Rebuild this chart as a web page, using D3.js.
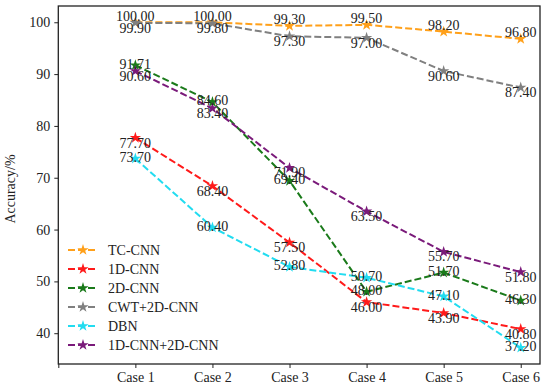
<!DOCTYPE html>
<html>
<head>
<meta charset="utf-8">
<script src="https://cdn.jsdelivr.net/npm/d3@7"></script>
<style>
  body { margin: 0; background: #fff; }
  text { font-family: "Liberation Serif", "DejaVu Serif", serif; fill: #222; }
</style>
</head>
<body>
<div id="chart"></div>
<script>
const cases = ["Case 1", "Case 2", "Case 3", "Case 4", "Case 5", "Case 6"];
const yTicks = [40, 50, 60, 70, 80, 90, 100];

const tcCnn = [100.00, 100.00, 99.30, 99.50, 98.20, 96.80];
const cnn1d = [77.70, 68.40, 57.50, 46.00, 43.90, 40.80];
const cnn2d = [91.71, 84.60, 69.40, 48.00, 51.70, 46.30];
const cwtCnn = [99.90, 99.80, 97.30, 97.00, 90.60, 87.40];
const dbn = [73.70, 60.40, 52.80, 50.70, 47.10, 37.20];
const cnn1d2d = [90.60, 83.40, 71.90, 63.50, 55.70, 51.80];

const seriesNames = ["TC-CNN", "1D-CNN", "2D-CNN", "CWT+2D-CNN", "DBN", "1D-CNN+2D-CNN"];
const seriesValues = [tcCnn, cnn1d, cnn2d, cwtCnn, dbn, cnn1d2d];
const seriesColors = ["#ffa01a", "#ff1a1a", "#1a7a1a", "#808080", "#22dcf0", "#7a1a7a"];
// vertical shift of the value labels, per series
const labelShift = [-6.5, 5, -1.5, 5, -1.5, 4.7];

const width = 550, height = 390;
const plotL = 58.3, plotR = 540, plotT = 6, plotB = 364;
const fontSize = 14;

const svg = d3.select("#chart").append("svg")
  .attr("width", width)
  .attr("height", height);

const x = d3.scaleLinear().domain([0, 6.25]).range([plotL, plotR]);
const y = d3.scaleLinear().domain([34.06, 103.14]).range([plotB, plotT]);

// axes
const xAxis = d3.axisBottom(x)
  .tickValues([0, 1, 2, 3, 4, 5, 6])
  .tickFormat(d => d === 0 ? "" : cases[d - 1])
  .tickSize(4).tickPadding(4);
const yAxis = d3.axisLeft(y)
  .tickValues(yTicks)
  .tickSize(4).tickPadding(4);

const gx = svg.append("g").attr("transform", `translate(0,${plotB})`).call(xAxis);
const gy = svg.append("g").attr("transform", `translate(${plotL},0)`).call(yAxis);
[gx, gy].forEach(g => {
  g.select(".domain").remove();
  g.selectAll(".tick line").attr("stroke", "#222").attr("stroke-width", 1);
  g.selectAll(".tick text").attr("font-size", fontSize).attr("fill", "#222")
    .style("font-family", "'Liberation Serif', serif");
});

// frame
svg.append("rect")
  .attr("x", plotL).attr("y", plotT)
  .attr("width", plotR - plotL).attr("height", plotB - plotT)
  .attr("fill", "none").attr("stroke", "#222").attr("stroke-width", 1.3);

svg.append("text")
  .attr("transform", `translate(15,${(plotT + plotB) / 2 + 4}) rotate(-90)`)
  .attr("text-anchor", "middle")
  .attr("font-size", fontSize)
  .text("Accuracy/%");

const line = d3.line().x((d, i) => x(i + 1)).y(d => y(d));
const star = d3.symbol().type(d3.symbolStar).size(40);

// lines and markers
seriesValues.forEach((vals, s) => {
  svg.append("path")
    .datum(vals)
    .attr("d", line)
    .attr("fill", "none")
    .attr("stroke", seriesColors[s])
    .attr("stroke-width", 2)
    .attr("stroke-dasharray", "7,3");

  svg.selectAll(null)
    .data(vals)
    .enter()
    .append("path")
    .attr("d", star)
    .attr("transform", (d, i) => `translate(${x(i + 1)},${y(d)})`)
    .attr("fill", seriesColors[s]);
});

// value labels
seriesValues.forEach((vals, s) => {
  svg.selectAll(null)
    .data(vals)
    .enter()
    .append("text")
    .attr("x", (d, i) => x(i + 1))
    .attr("y", d => y(d) + labelShift[s])
    .attr("dy", "0.35em")
    .attr("text-anchor", "middle")
    .attr("font-size", fontSize)
    .text(d => d.toFixed(2));
});

// legend
const legend = svg.append("g").attr("transform", "translate(68,250)");
seriesNames.forEach((name, s) => {
  const row = legend.append("g").attr("transform", `translate(0,${s * 19})`);
  row.append("line")
    .attr("x1", 0).attr("x2", 30).attr("y1", 0).attr("y2", 0)
    .attr("stroke", seriesColors[s])
    .attr("stroke-width", 2)
    .attr("stroke-dasharray", "7,3");
  row.append("path")
    .attr("d", star)
    .attr("transform", "translate(15,0)")
    .attr("fill", seriesColors[s]);
  row.append("text")
    .attr("x", 40).attr("y", 0).attr("dy", "0.35em")
    .attr("font-size", fontSize)
    .text(name);
});
</script>
</body>
</html>
